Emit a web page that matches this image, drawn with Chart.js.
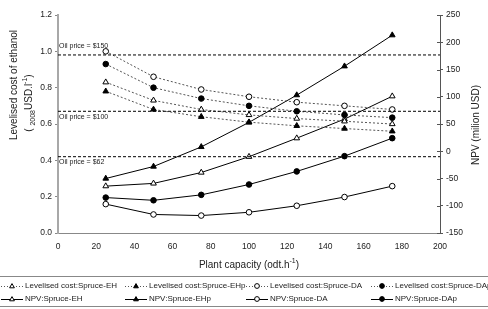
<!DOCTYPE html>
<html>
<head>
<meta charset="utf-8">
<script src="https://cdn.jsdelivr.net/npm/chart.js@4.4.1/dist/chart.umd.min.js"></script>
<style>
  html, body { margin: 0; padding: 0; background: #fff; }
  #wrap { width: 488px; height: 309px; }
</style>
</head>
<body>
<div id="wrap"><canvas id="chart" width="488" height="309"></canvas></div>
<script>
// plant capacity (odt/h)
const capacity = [25, 50, 75, 100, 125, 150, 175];

// levelised cost of ethanol (2008 USD/l), left axis
const costEH  = [0.83, 0.73, 0.68, 0.65, 0.63, 0.615, 0.60];
const costEHp = [0.78, 0.68, 0.64, 0.61, 0.59, 0.575, 0.56];
const costDA  = [1.00, 0.86, 0.79, 0.75, 0.72, 0.70, 0.68];
const costDAp = [0.93, 0.80, 0.74, 0.70, 0.67, 0.65, 0.635];

// NPV (million USD), right axis
const npvEH  = [-64, -59, -39, -10, 24, 59, 101];
const npvEHp = [-50, -28, 8, 53, 103, 156, 213];
const npvDA  = [-97, -116, -118, -112, -100, -84, -64];
const npvDAp = [-85, -90, -80, -61, -37, -9, 24];

// oil price reference lines
const oilLabels = ["Oil price = $150", "Oil price = $100", "Oil price = $62"];
const oilCost = [0.98, 0.67, 0.42];

const xTicks = [0, 20, 40, 60, 80, 100, 120, 140, 160, 180, 200];

const FONT = '"Liberation Sans", Arial, sans-serif';
const TEXT = "#222";

const pts = (ys) => capacity.map((x, i) => ({ x: x, y: ys[i] }));

function series(label, ys, axis, style, filled, dotted) {
  return {
    label: label,
    data: pts(ys),
    yAxisID: axis,
    borderColor: dotted ? "#555" : "#000",
    borderWidth: 1,
    borderDash: dotted ? [2, 2] : [],
    pointStyle: style,
    pointRadius: style === "triangle" ? 3.3 : 2.8,
    pointBorderWidth: 1,
    pointBorderColor: "#000",
    pointBackgroundColor: filled ? "#000" : "#fff",
    tension: 0,
    fill: false,
  };
}

const costSeries = [
  series("Levelised cost:Spruce-EH", costEH, "y", "triangle", false, true),
  series("Levelised cost:Spruce-EHp", costEHp, "y", "triangle", true, true),
  series("Levelised cost:Spruce-DA", costDA, "y", "circle", false, true),
  series("Levelised cost:Spruce-DAp", costDAp, "y", "circle", true, true),
];
const npvSeries = [
  series("NPV:Spruce-EH", npvEH, "y2", "triangle", false, false),
  series("NPV:Spruce-EHp", npvEHp, "y2", "triangle", true, false),
  series("NPV:Spruce-DA", npvDA, "y2", "circle", false, false),
  series("NPV:Spruce-DAp", npvDAp, "y2", "circle", true, false),
];
const oilSeries = oilCost.map((v, i) => ({
  label: oilLabels[i],
  data: [{ x: 0, y: v }, { x: 200, y: v }],
  yAxisID: "y",
  borderColor: "#000",
  borderWidth: 1,
  borderDash: [3, 2],
  pointRadius: 0,
}));

function richText(ctx, parts, x, y, size) {
  // parts: [text, shift] shift 1 = superscript, -1 = subscript
  let total = 0;
  const widths = parts.map(([t, k]) => {
    ctx.font = (k ? size * 0.7 : size) + "px " + FONT;
    const w = ctx.measureText(t).width;
    total += w;
    return w;
  });
  let cx = x - total / 2;
  ctx.textAlign = "left";
  ctx.textBaseline = "middle";
  parts.forEach(([t, k], i) => {
    ctx.font = (k ? size * 0.7 : size) + "px " + FONT;
    ctx.fillText(t, cx, y - k * size * 0.38);
    cx += widths[i];
  });
}

function marker(ctx, style, filled, x, y, r) {
  ctx.save();
  ctx.setLineDash([]);
  ctx.lineWidth = 1;
  ctx.strokeStyle = "#000";
  ctx.fillStyle = filled ? "#000" : "#fff";
  ctx.beginPath();
  if (style === "circle") {
    ctx.arc(x, y, r, 0, Math.PI * 2);
  } else {
    ctx.moveTo(x, y - r);
    ctx.lineTo(x + r, y + r * 0.75);
    ctx.lineTo(x - r, y + r * 0.75);
    ctx.closePath();
  }
  ctx.fill();
  ctx.stroke();
  ctx.restore();
}

const extras = {
  id: "extras",
  afterDraw(chart) {
    const ctx = chart.ctx;
    const ys = chart.scales.y;
    const y2 = chart.scales.y2;
    ctx.save();
    ctx.fillStyle = TEXT;

    // right axis ticks also cross inward
    ctx.strokeStyle = "#555";
    ctx.lineWidth = 1;
    ctx.beginPath();
    y2.ticks.forEach((t) => {
      const py = Math.round(y2.getPixelForValue(t.value)) + 0.5;
      ctx.moveTo(y2.left - 3, py);
      ctx.lineTo(y2.left, py);
    });
    ctx.stroke();

    // oil price labels
    ctx.font = "7px " + FONT;
    ctx.textAlign = "left";
    ctx.textBaseline = "middle";
    const offs = [-8.5, 5.5, 5.5];
    oilCost.forEach((v, i) => {
      ctx.fillText(oilLabels[i], 59, ys.getPixelForValue(v) + offs[i]);
    });

    // x title
    richText(ctx, [["Plant capacity (odt.h", 0], ["-1", 1], [")", 0]], 249, 265, 10);

    // left title
    ctx.save();
    ctx.translate(14, 85);
    ctx.rotate(-Math.PI / 2);
    richText(ctx, [["Levelised cost of ethanol", 0]], 0, 0, 10);
    ctx.restore();
    ctx.save();
    ctx.translate(29, 103);
    ctx.rotate(-Math.PI / 2);
    richText(ctx, [["( ", 0], ["2008", -1], ["USD.l", 0], ["-1", 1], [")", 0]], 0, 0, 10);
    ctx.restore();

    // right title
    ctx.save();
    ctx.translate(476, 125);
    ctx.rotate(-Math.PI / 2);
    richText(ctx, [["NPV (milion USD)", 0]], 0, 0, 10);
    ctx.restore();

    // legend box
    ctx.strokeStyle = "#888";
    ctx.lineWidth = 1;
    ctx.setLineDash([]);
    ctx.beginPath();
    ctx.moveTo(0, 276.5); ctx.lineTo(488, 276.5);
    ctx.moveTo(0, 306.5); ctx.lineTo(488, 306.5);
    ctx.stroke();

    const cols = [0, 124, 245, 370];
    const rows = [[costSeries, 286, true], [npvSeries, 299, false]];
    rows.forEach(([list, ry, dotted]) => {
      list.forEach((ds, i) => {
        const x0 = cols[i];
        ctx.save();
        ctx.strokeStyle = dotted ? "#555" : "#000";
        ctx.setLineDash(dotted ? [1, 2] : []);
        ctx.beginPath();
        ctx.moveTo(x0 + 1, ry + 0.5);
        ctx.lineTo(x0 + 23, ry + 0.5);
        ctx.stroke();
        ctx.restore();
        marker(ctx, ds.pointStyle, ds.pointBackgroundColor === "#000", x0 + 12, ry, 2.4);
        ctx.fillStyle = TEXT;
        ctx.font = "8px " + FONT;
        ctx.textAlign = "left";
        ctx.textBaseline = "middle";
        ctx.fillText(ds.label, x0 + 25, ry);
      });
    });
    ctx.restore();
  },
};

const tickFont = { family: FONT, size: 8.5 };

new Chart(document.getElementById("chart").getContext("2d"), {
  type: "line",
  data: { datasets: [...oilSeries, ...costSeries, ...npvSeries] },
  options: {
    responsive: false,
    animation: false,
    layout: { padding: { top: 15, left: 0, right: 0, bottom: 0 } },
    plugins: { legend: { display: false }, tooltip: { enabled: false } },
    scales: {
      x: {
        type: "linear",
        min: 0,
        max: 200,
        afterBuildTicks: (s) => { s.ticks = xTicks.map((v) => ({ value: v })); },
        afterFit: (s) => { s.height = 76; },
        ticks: { font: tickFont, color: TEXT, padding: 9, maxRotation: 0 },
        grid: { display: false, drawTicks: false },
        border: { color: "#888", width: 1 },
      },
      y: {
        position: "left",
        min: 0,
        max: 1.2,
        afterFit: (s) => { s.width = 58; },
        ticks: { stepSize: 0.2, font: tickFont, color: TEXT, padding: 3, callback: (v) => v.toFixed(1) },
        grid: { drawOnChartArea: false, drawTicks: true, tickLength: 3, color: "#888" },
        border: { color: "#a8a8a8", width: 2 },
      },
      y2: {
        position: "right",
        min: -150,
        max: 250,
        afterFit: (s) => { s.width = 48; },
        ticks: { stepSize: 50, font: tickFont, color: TEXT, padding: 3 },
        grid: { drawOnChartArea: false, drawTicks: true, tickLength: 3, color: "#555" },
        border: { color: "#555", width: 1 },
      },
    },
  },
  plugins: [extras],
});
</script>
</body>
</html>
